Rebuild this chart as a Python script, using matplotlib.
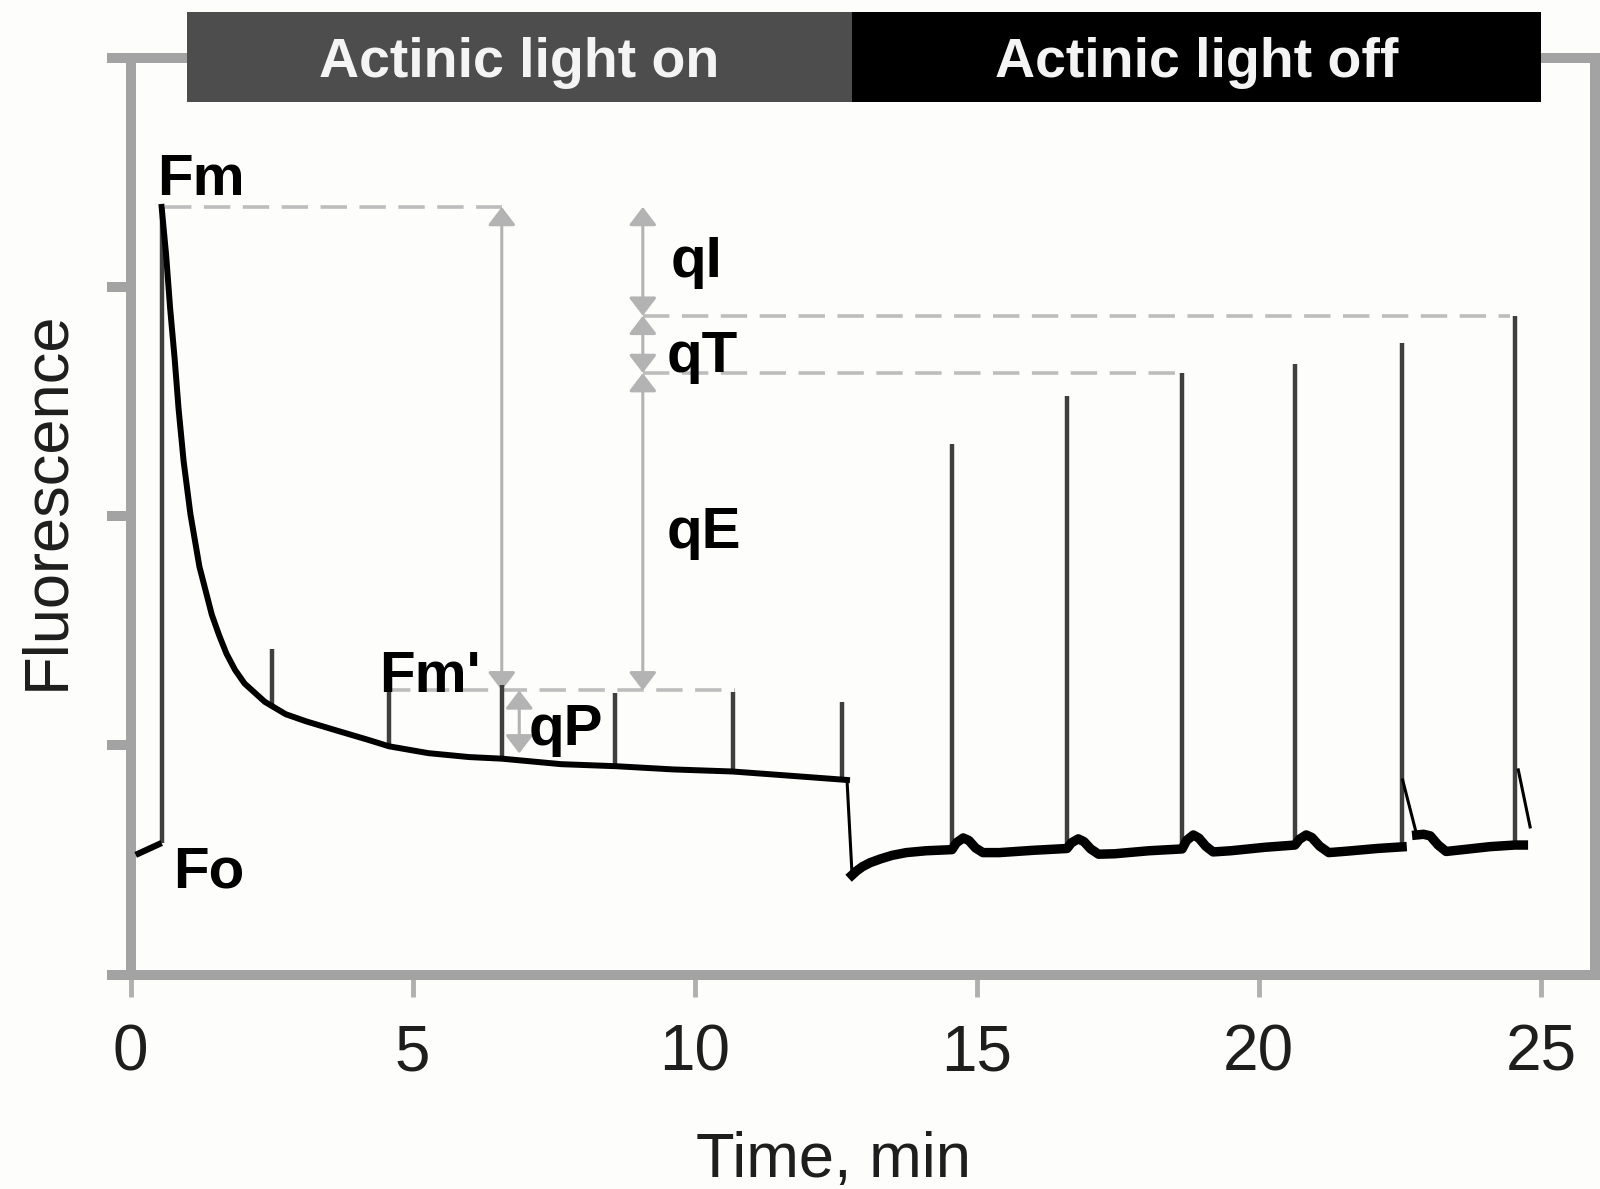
import numpy as np
import matplotlib
matplotlib.use("Agg")
import matplotlib.pyplot as plt
from matplotlib.patches import Rectangle

plt.rcParams['font.family'] = ['Liberation Sans', 'DejaVu Sans']
plt.rcParams['lines.scale_dashes'] = False

# Dark-adapted level before the first saturating pulse
fo_t = [0.09, 0.55]
fo_f = [0.522, 0.574]

# Fluorescence under actinic light, starting at the Fm peak
light_t = [0.55, 0.63, 0.70, 0.78, 0.85, 0.94, 1.06, 1.22, 1.44, 1.57, 1.70, 1.85,
           2.02, 2.38, 2.75, 3.11, 3.65, 4.20, 4.58, 5.28, 6.00, 6.58, 7.63, 8.61,
           9.62, 10.67, 11.61, 12.59, 12.70]
light_f = [3.35, 3.14, 2.91, 2.69, 2.47, 2.24, 2.01, 1.78, 1.57, 1.48, 1.40, 1.33,
           1.27, 1.19, 1.136, 1.105, 1.065, 1.025, 0.996, 0.966, 0.949, 0.942, 0.918, 0.909,
           0.895, 0.886, 0.869, 0.851, 0.849]

# Drop when the actinic light is switched off
drop_t = [12.70, 12.79]
drop_f = [0.849, 0.434]

# Dark relaxation baseline (NaN: gap where a pulse relaxation tail takes over)
dark_t = [12.79, 12.87, 12.97, 13.11, 13.30, 13.50, 13.75, 14.10, 14.56,
          14.64, 14.76, 14.86, 14.98, 15.11, 15.40, 16.00, 16.60,
          16.68, 16.80, 16.90, 17.02, 17.16, 17.45, 18.05, 18.64,
          18.72, 18.84, 18.94, 19.06, 19.19, 19.50, 20.10, 20.64,
          20.72, 20.84, 20.94, 21.08, 21.24, 21.55, 22.10, 22.54,
          np.nan,
          22.80, 22.92, 23.04, 23.18, 23.32, 23.62, 24.10, 24.54, 24.69]
dark_f = [0.434, 0.452, 0.470, 0.488, 0.505, 0.520, 0.532, 0.540, 0.545,
          0.575, 0.596, 0.585, 0.552, 0.532, 0.532, 0.542, 0.550,
          0.575, 0.592, 0.580, 0.548, 0.525, 0.527, 0.540, 0.548,
          0.585, 0.609, 0.595, 0.560, 0.535, 0.540, 0.555, 0.565,
          0.590, 0.609, 0.598, 0.560, 0.532, 0.538, 0.550, 0.557,
          np.nan,
          0.609, 0.612, 0.605, 0.565, 0.537, 0.545, 0.558, 0.565, 0.565]

# Relaxation tails after the last two dark pulses
tail_t = [22.55, 22.80, np.nan, 24.60, 24.81]
tail_f = [0.849, 0.609, np.nan, 0.893, 0.644]

# Saturating pulses: time, base and peak fluorescence
pulse_t = [0.55, 2.51, 4.58, 6.58, 8.59, 10.68, 12.61,
           14.56, 16.60, 18.64, 20.64, 22.54, 24.54]
pulse_lo = [0.574, 1.17, 0.996, 0.942, 0.909, 0.886, 0.851,
            0.545, 0.550, 0.548, 0.565, 0.557, 0.565]
pulse_hi = [3.35, 1.421, 1.233, 1.264, 1.229, 1.233, 1.189,
            2.316, 2.525, 2.625, 2.664, 2.757, 2.875]

# Quenching reference levels
Fm = pulse_hi[0]
Fm_prime = 1.24
Fs = 0.965
Fm_recovered = pulse_hi[-1]
Fm_relaxed = pulse_hi[9]

phase_labels = ["Actinic light on", "Actinic light off"]
phase_edges = [1.0, 12.79, 25.0]
phase_colors = ["#4d4d4d", "#000000"]

xticks = [0, 5, 10, 15, 20, 25]
yticks = [0, 1, 2, 3, 4]

bg = "#fdfdfb"
spine_c = "#a3a3a3"
guide_c = "#bdbdbd"
arrow_c = "#b3b3b3"
pulse_c = "#3f3f3f"

fig = plt.figure(figsize=(16, 11.89), dpi=100, facecolor=bg)
ax = fig.add_axes([130.6 / 1600, 1 - 974.5 / 1189, 1464.4 / 1600, 916.5 / 1189])
ax.set_facecolor(bg)
ax.set_xlim(0, 25.96)
ax.set_ylim(0, 4)

for s in ax.spines.values():
    s.set_color(spine_c)
    s.set_linewidth(7.2)

ax.set_xticks(xticks)
ax.set_xticklabels([str(v) for v in xticks])
ax.set_yticks(yticks)
ax.set_yticklabels([])
ax.tick_params(axis='x', direction='out', length=16, width=3.5, color='#b0b0b0',
               labelsize=46, labelcolor='#1e1e1e', pad=19)
ax.tick_params(axis='y', direction='out', length=17, width=7.2, color=spine_c)

# Guide lines
dash = (0, (19, 9))
gkw = dict(color=guide_c, lw=2.6, linestyle=dash, zorder=1)
ax.plot([0.61, 6.58], [Fm, Fm], **gkw)
ax.plot([4.50, 10.72], [Fm_prime, Fm_prime], **gkw)
ax.plot([9.08, 24.45], [Fm_recovered, Fm_recovered], **gkw)
ax.plot([9.08, 18.58], [Fm_relaxed, Fm_relaxed], **gkw)

# Pulses and fluorescence trace
ax.vlines(pulse_t, pulse_lo, pulse_hi, colors=pulse_c, lw=3.2, zorder=3)
ax.plot(fo_t, fo_f, color='black', lw=4.5, solid_capstyle='butt', zorder=4)
ax.plot(light_t, light_f, color='black', lw=4.3, solid_joinstyle='round', zorder=4)
ax.plot(drop_t, drop_f, color='black', lw=2.2, zorder=4)
ax.plot(dark_t, dark_f, color='black', lw=6.8, solid_joinstyle='round', zorder=4)
ax.plot(tail_t, tail_f, color='black', lw=2.2, zorder=4)

# Double-headed quenching arrows
def span(x, y0, y1):
    ax.annotate('', xy=(x, y1), xytext=(x, y0),
                arrowprops=dict(arrowstyle='<|-|>,head_length=0.55,head_width=0.42',
                                mutation_scale=20, color=arrow_c, lw=2.2,
                                shrinkA=0, shrinkB=0), zorder=2)

span(6.58, Fm, Fm_prime)
span(6.89, Fm_prime, Fs)
span(9.08, Fm, Fm_recovered)
span(9.08, Fm_recovered, Fm_relaxed)
span(9.08, Fm_relaxed, Fm_prime)

tkw = dict(fontsize=42, fontweight='bold', color='black', ha='left', va='baseline', zorder=6)
ax.text(0.47, 3.40, "Fm", **tkw)
ax.text(0.75, 0.378, "Fo", **tkw)
ax.text(4.40, 1.233, "Fm'", **tkw)
ax.text(7.06, 1.002, "qP", **tkw)
ax.text(9.58, 3.045, "qI", **tkw)
ax.text(9.51, 2.630, "qT", **tkw)
ax.text(9.51, 1.862, "qE", **tkw)

# Light-phase banner
for i, lab in enumerate(phase_labels):
    x0, x1 = phase_edges[i], phase_edges[i + 1]
    ax.add_patch(Rectangle((x0, 3.808), x1 - x0, 0.393, facecolor=phase_colors[i],
                           edgecolor='none', clip_on=False, zorder=7))
    ax.text((x0 + x1) / 2, 3.917, lab, fontsize=40, fontweight='bold',
            color='#f4f4f4', ha='center', va='baseline', clip_on=False, zorder=8)

ax.set_xlabel("Time, min", fontsize=45.5, color='#1e1e1e')
ax.xaxis.set_label_coords(0.4797, -0.171)
ax.set_ylabel("Fluorescence", fontsize=45.5, color='#1e1e1e')
ax.yaxis.set_label_coords(-0.0373, 0.5177)

fig.savefig("out.png", dpi=100, facecolor=bg)
